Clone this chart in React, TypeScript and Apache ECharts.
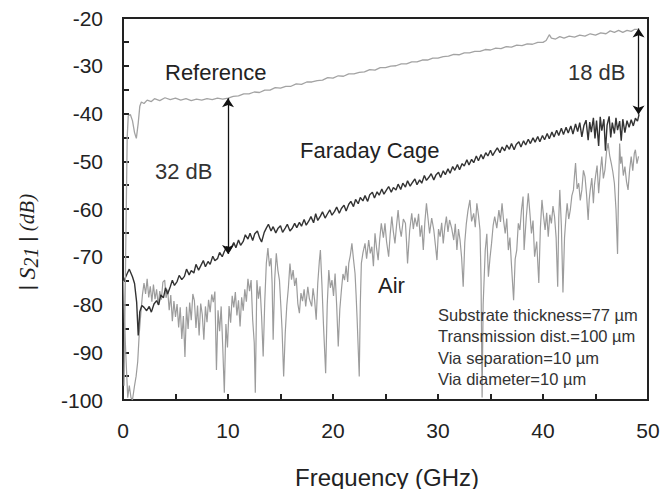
import React, { useEffect, useRef } from 'react';
import * as echarts from 'echarts';

const FONT = '"Liberation Sans", Arial, sans-serif';
const SERIF = '"Liberation Serif", "DejaVu Serif", serif';

const xTickLabels = [0, 10, 20, 30, 40, 50];
const yTickLabels = [-100, -90, -80, -70, -60, -50, -40, -30, -20];

// Reference (light gray)
const referenceData: [number, number][] = [
  [0.1, -97], [0.25, -70], [0.4, -45], [0.5, -40.5], [0.7, -40.2], [0.9, -41.5], [1.1, -44], [1.27, -45.2],
  [1.45, -42], [1.6, -38.5], [1.75, -37.6], [2.0, -37.9], [2.3, -37.2], [2.7, -37.5], [3.0, -36.9], [3.5, -37.3],
  [4.0, -36.7], [4.5, -37.1], [5.0, -36.8], [5.5, -37.2], [6.0, -36.9], [6.5, -37.3], [7.0, -37.0], [7.5, -37.2],
  [8.0, -36.9], [8.5, -37.1], [9.0, -36.8], [9.5, -37.0], [10.0, -36.8], [10.5, -36.4], [11.0, -36.3], [11.5, -35.9],
  [12.0, -35.9], [12.5, -35.5], [13.0, -35.6], [13.5, -35.1], [14.0, -35.1], [14.5, -34.6], [15.0, -34.7],
  [15.5, -34.3], [16.0, -34.3], [16.5, -33.8], [17.0, -33.9], [17.5, -33.4], [18.0, -33.4], [18.5, -33.1],
  [19.0, -33.0], [19.5, -32.5], [20.0, -32.6], [20.5, -32.1], [21.0, -32.2], [21.5, -31.7], [22.0, -31.7],
  [22.5, -31.4], [23.0, -31.3], [23.5, -30.8], [24.0, -30.9], [24.5, -30.4], [25.0, -30.4], [25.5, -30.1],
  [26.0, -30.0], [26.5, -29.6], [27.0, -29.6], [27.5, -29.2], [28.0, -29.2], [28.5, -28.8], [29.0, -28.8],
  [29.5, -28.4], [30.0, -28.4], [30.5, -28.1], [31.0, -28.0], [31.5, -27.6], [32.0, -27.7], [32.5, -27.3],
  [33.0, -27.3], [33.5, -27.0], [34.0, -27.0], [34.5, -26.6], [35.0, -26.7], [35.5, -26.3], [36.0, -26.4],
  [36.5, -26.0], [37.0, -26.1], [37.5, -25.7], [38.0, -25.8], [38.5, -25.4], [39.0, -25.5], [39.5, -25.1],
  [40.0, -25.1], [40.3, -24.7], [40.6, -23.5], [40.8, -24.2], [41.2, -24.4], [41.6, -23.9], [42.0, -24.2],
  [42.5, -23.8], [43.0, -24.0], [43.5, -23.6], [44.0, -23.8], [44.5, -23.3], [45.0, -23.6], [45.5, -23.1],
  [46.0, -23.3], [46.4, -22.7], [46.8, -23.0], [47.2, -22.6], [47.6, -23.0], [48.0, -22.6], [48.4, -22.8],
  [48.7, -22.4], [49.0, -22.4]
];

// Faraday Cage (dark)
const faradayData: [number, number][] = [
  [0.1, -75.0], [0.4, -73.5], [0.6, -72.6], [0.9, -74.2], [1.1, -75.6], [1.3, -79.5], [1.45, -86.5], [1.6, -81.5],
  [1.8, -80.2], [2.0, -80.6], [2.25, -81.3], [2.5, -80.4], [2.7, -81.6], [2.95, -79.9], [3.2, -79.2], [3.4, -80.1],
  [3.6, -78.0], [3.85, -78.6], [4.05, -76.5], [4.25, -77.8], [4.5, -76.3], [4.7, -74.9], [4.9, -76.0], [5.15, -75.2],
  [5.35, -73.9], [5.6, -74.8], [5.85, -74.1], [6.05, -72.6], [6.3, -73.8], [6.5, -72.9], [6.75, -73.4], [6.95, -71.6],
  [7.2, -72.8], [7.4, -71.9], [7.65, -70.8], [7.85, -72.1], [8.1, -71.0], [8.3, -71.6], [8.55, -69.9], [8.75, -70.8],
  [9.0, -70.4], [9.2, -69.1], [9.45, -70.0], [9.65, -68.9], [9.9, -67.8], [10.1, -69.0], [10.3, -68.2], [10.55, -67.0],
  [10.75, -68.1], [11.0, -66.5], [11.2, -67.6], [11.45, -66.8], [11.65, -65.4], [11.9, -66.3], [12.1, -65.1],
  [12.35, -66.6], [12.55, -65.2], [12.8, -64.6], [13.0, -66.0], [13.2, -66.9], [13.45, -64.9], [13.65, -64.0],
  [13.85, -63.2], [14.1, -64.6], [14.3, -63.7], [14.55, -65.0], [14.75, -64.1], [15.0, -63.5], [15.2, -64.9],
  [15.45, -64.0], [15.65, -63.2], [15.9, -64.6], [16.1, -64.1], [16.35, -63.0], [16.55, -63.9], [16.8, -62.8],
  [17.0, -63.6], [17.25, -62.2], [17.45, -63.4], [17.7, -62.5], [17.9, -61.6], [18.15, -62.9], [18.35, -61.0],
  [18.55, -62.4], [18.8, -61.5], [19.0, -60.6], [19.25, -61.9], [19.45, -61.1], [19.7, -60.2], [19.9, -61.3],
  [20.15, -60.5], [20.35, -59.6], [20.6, -60.9], [20.8, -59.9], [21.05, -59.2], [21.25, -60.4], [21.5, -59.0],
  [21.7, -58.4], [21.95, -59.5], [22.15, -58.0], [22.4, -58.9], [22.6, -57.6], [22.85, -58.3], [23.05, -57.2],
  [23.3, -58.4], [23.5, -57.0], [23.75, -56.5], [23.95, -57.7], [24.2, -56.4], [24.4, -57.1], [24.65, -55.8],
  [24.85, -56.9], [25.1, -56.0], [25.3, -55.3], [25.55, -56.5], [25.75, -55.5], [26.0, -56.0], [26.2, -54.8],
  [26.45, -55.9], [26.65, -54.6], [26.9, -55.4], [27.1, -54.1], [27.35, -55.2], [27.55, -54.5], [27.8, -53.7],
  [28.0, -54.9], [28.25, -53.9], [28.45, -54.6], [28.7, -53.0], [28.9, -54.0], [29.15, -53.3], [29.35, -52.6],
  [29.6, -53.9], [29.8, -52.9], [30.05, -52.3], [30.25, -53.4], [30.5, -52.0], [30.7, -52.8], [30.95, -51.6],
  [31.15, -52.5], [31.4, -51.1], [31.6, -51.9], [31.85, -50.7], [32.05, -51.8], [32.3, -50.5], [32.5, -51.0],
  [32.75, -49.7], [32.95, -50.8], [33.2, -49.6], [33.4, -50.3], [33.65, -48.9], [33.85, -49.9], [34.1, -48.6],
  [34.3, -49.5], [34.55, -48.2], [34.75, -48.9], [35.0, -47.7], [35.2, -48.8], [35.45, -47.9], [35.65, -47.2],
  [35.9, -48.2], [36.1, -47.0], [36.35, -47.8], [36.55, -46.6], [36.8, -47.5], [37.0, -46.3], [37.25, -47.6],
  [37.45, -46.5], [37.7, -45.9], [37.9, -47.0], [38.15, -45.7], [38.35, -46.6], [38.6, -45.4], [38.8, -46.3],
  [39.05, -45.1], [39.25, -46.0], [39.5, -44.8], [39.7, -45.9], [39.95, -44.6], [40.15, -45.5], [40.4, -44.2],
  [40.6, -45.3], [40.85, -43.9], [41.05, -44.9], [41.3, -43.5], [41.5, -44.6], [41.75, -43.1], [41.95, -44.4],
  [42.2, -42.9], [42.4, -44.1], [42.65, -42.6], [42.85, -44.3], [43.1, -42.2], [43.3, -43.8], [43.5, -41.9],
  [43.7, -44.9], [43.9, -42.5], [44.1, -41.4], [44.3, -45.6], [44.45, -41.8], [44.6, -43.9], [44.8, -40.9],
  [44.95, -45.2], [45.1, -41.5], [45.3, -46.8], [45.45, -40.7], [45.6, -43.6], [45.8, -41.2], [45.95, -47.8],
  [46.1, -42.5], [46.3, -40.6], [46.45, -45.0], [46.6, -41.9], [46.8, -44.2], [46.95, -40.9], [47.1, -43.5],
  [47.3, -41.6], [47.45, -45.7], [47.6, -41.2], [47.8, -44.0], [48.0, -41.5], [48.2, -42.9], [48.4, -41.3],
  [48.6, -42.6], [48.8, -41.0], [49.0, -41.6], [49.15, -40.2]
];

// Air (gray, noisy)
const airData: [number, number][] = [
  [0.05, -75], [0.15, -84], [0.3, -92], [0.45, -99.5], [0.6, -97], [0.76, -99.5], [0.9, -100], [1.1, -97],
  [1.25, -95], [1.4, -92], [1.55, -86], [1.7, -81.8], [1.85, -78],
  [2.0, -75.5], [2.15, -77.8], [2.3, -74.6], [2.45, -78.5], [2.6, -76.2], [2.75, -79.4], [2.9, -75.8], [3.05, -78.9],
  [3.2, -76.8], [3.35, -80.1], [3.5, -77.2], [3.65, -79.0], [3.8, -75.3], [3.97, -74.9], [4.1, -78.6], [4.25, -76.9],
  [4.4, -81.2], [4.55, -78.0], [4.7, -83.5], [4.85, -79.3], [5.0, -82.6], [5.15, -79.9], [5.3, -84.8], [5.45, -80.6],
  [5.6, -87.2], [5.75, -82.4], [5.9, -91.0], [6.05, -80.5], [6.2, -85.1], [6.35, -79.6], [6.5, -83.3], [6.65, -77.8],
  [6.8, -79.2], [6.95, -84.9], [7.1, -80.2], [7.25, -86.5], [7.4, -79.8], [7.55, -82.1], [7.7, -87.4], [7.85, -80.4],
  [8.0, -83.7], [8.15, -79.0], [8.3, -81.6], [8.45, -77.9], [8.6, -79.5], [8.75, -77.3], [8.9, -93.7], [9.05, -81.2],
  [9.2, -85.6], [9.35, -80.4], [9.5, -88.9], [9.65, -98.5], [9.8, -84.1], [9.95, -89.0], [10.1, -80.3], [10.25, -83.8],
  [10.4, -78.2], [10.55, -80.6], [10.7, -77.4], [10.85, -82.3], [11.0, -79.1], [11.15, -84.6], [11.3, -78.5],
  [11.45, -81.3], [11.6, -76.8], [11.75, -79.4], [11.9, -74.6], [12.05, -77.2], [12.2, -74.9], [12.35, -83.2],
  [12.5, -88.0], [12.6, -98.5], [12.75, -74.9], [12.9, -78.8], [13.05, -76.2], [13.2, -82.5], [13.35, -90.9],
  [13.5, -79.4], [13.65, -71.4], [13.8, -68.2], [13.95, -72.0], [14.1, -70.3], [14.2, -75.5], [14.3, -87.4],
  [14.45, -74.6], [14.6, -69.3], [14.75, -72.8], [14.9, -74.9], [15.05, -81.0], [15.15, -85.3], [15.3, -95.1],
  [15.45, -86.0], [15.6, -80.2], [15.75, -76.5], [15.9, -71.4], [16.05, -74.8], [16.2, -72.8], [16.35, -76.1],
  [16.5, -74.4], [16.65, -79.8], [16.8, -81.8], [16.95, -77.6], [17.1, -79.3], [17.25, -76.8], [17.4, -80.4],
  [17.6, -76.3], [17.75, -78.8], [17.97, -80.4], [18.1, -76.6], [18.25, -79.1], [18.4, -83.2], [18.55, -75.5],
  [18.7, -70.9], [18.8, -68.6], [18.95, -76.0], [19.1, -84.6], [19.3, -94.4], [19.45, -80.1], [19.6, -72.8],
  [19.75, -76.5], [19.9, -74.9], [20.05, -78.2], [20.2, -73.5], [20.35, -80.2], [20.5, -88.8], [20.65, -81.0],
  [20.8, -77.0], [20.95, -73.6], [21.1, -74.9], [21.25, -71.9], [21.4, -75.3], [21.5, -71.4], [21.65, -69.7],
  [21.8, -67.2], [21.95, -70.5], [22.1, -73.5], [22.2, -78.0], [22.3, -83.2], [22.5, -95.1], [22.6, -80.0],
  [22.7, -71.4], [22.85, -69.2], [23.05, -67.2], [23.2, -70.4], [23.4, -66.5], [23.55, -69.3], [23.7, -67.9],
  [23.85, -72.0], [24.0, -65.1], [24.15, -68.2], [24.3, -70.7], [24.45, -66.3], [24.6, -63.0], [24.8, -66.0],
  [24.95, -63.0], [25.1, -66.8], [25.3, -70.0], [25.45, -65.2], [25.6, -61.6], [25.75, -64.8], [25.9, -67.2],
  [26.05, -63.5], [26.2, -60.2], [26.35, -63.9], [26.5, -65.8], [26.7, -62.1], [26.9, -63.0], [27.0, -66.8],
  [27.1, -71.4], [27.3, -64.5], [27.5, -60.9], [27.65, -64.2], [27.8, -61.8], [28.0, -63.7], [28.15, -61.0],
  [28.3, -65.8], [28.45, -63.4], [28.6, -68.6], [28.75, -62.7], [28.9, -58.8], [29.05, -62.0], [29.2, -65.1],
  [29.4, -61.9], [29.6, -64.4], [29.75, -67.5], [29.9, -70.7], [30.05, -64.2], [30.2, -65.8], [30.35, -62.9],
  [30.5, -67.2], [30.65, -63.8], [30.8, -61.6], [30.95, -64.8], [31.1, -62.3], [31.3, -64.0], [31.5, -66.5],
  [31.65, -63.1], [31.8, -68.6], [31.95, -64.2], [32.1, -66.5], [32.25, -70.2], [32.4, -76.3], [32.55, -67.0],
  [32.7, -63.0], [32.85, -60.4], [33.04, -58.1], [33.2, -62.6], [33.4, -60.9], [33.55, -63.8], [33.7, -58.8],
  [33.85, -61.2], [34.0, -64.4], [34.1, -75.0], [34.2, -99.5], [34.3, -80.0], [34.5, -68.6], [34.65, -65.2],
  [34.8, -74.2], [34.95, -70.3], [35.1, -67.2], [35.25, -63.5], [35.4, -61.6], [35.6, -64.0], [35.8, -60.2],
  [35.95, -62.7], [36.1, -58.8], [36.25, -62.5], [36.4, -65.1], [36.55, -62.0], [36.7, -68.6], [36.85, -66.0],
  [37.0, -71.8], [37.2, -79.1], [37.35, -70.5], [37.5, -68.6], [37.65, -63.0], [37.8, -64.4], [37.95, -60.2],
  [38.1, -57.4], [38.2, -68.6], [38.4, -62.0], [38.6, -56.7], [38.75, -60.8], [38.9, -65.1], [39.05, -62.4],
  [39.2, -70.0], [39.4, -66.8], [39.6, -75.5], [39.75, -64.0], [39.9, -58.1], [40.05, -61.5], [40.2, -64.4],
  [40.35, -60.8], [40.5, -65.8], [40.65, -61.2], [40.8, -63.0], [40.95, -59.4], [41.1, -61.6], [41.25, -66.0],
  [41.4, -76.3], [41.5, -62.0], [41.6, -56.0], [41.75, -63.5], [41.9, -77.5], [42.05, -66.0], [42.2, -61.3],
  [42.3, -58.8], [42.45, -62.1], [42.6, -60.2], [42.75, -57.2], [42.9, -56.0], [43.0, -53.0], [43.1, -50.4],
  [43.25, -55.8], [43.4, -54.6], [43.55, -58.2], [43.7, -56.0], [43.85, -51.9], [44.0, -53.2], [44.15, -57.0],
  [44.3, -62.3], [44.4, -58.1], [44.5, -56.0], [44.65, -53.5], [44.8, -58.8], [44.9, -55.0], [45.0, -53.2],
  [45.15, -50.9], [45.3, -56.7], [45.45, -52.3], [45.6, -49.0], [45.75, -53.6], [45.9, -51.8], [46.05, -48.0],
  [46.2, -46.2], [46.35, -48.8], [46.5, -50.4], [46.65, -52.2], [46.8, -54.6], [46.95, -60.0], [47.1, -69.4],
  [47.2, -55.0], [47.3, -46.3], [47.4, -50.5], [47.5, -49.0], [47.65, -53.0], [47.8, -51.1], [47.95, -54.2],
  [48.1, -56.0], [48.25, -51.8], [48.4, -49.0], [48.55, -52.0], [48.7, -48.3], [48.8, -47.6], [48.95, -50.5],
  [49.1, -49.0]
];

// Difference arrows: [frequency, top dB, bottom dB]
const arrow32: [number, number, number] = [10.0, -36.8, -69.4];
const arrow18: [number, number, number] = [49.1, -22.2, -40.2];

const paramLines = [
  'Substrate thickness=77 µm',
  'Transmission dist.=100 µm',
  'Via separation=10 µm',
  'Via diameter=10 µm',
];

export default function App() {
  const ref = useRef<HTMLDivElement>(null);
  useEffect(() => {
    const chart = echarts.init(ref.current!, null, { renderer: 'svg' });
    const axisColor = '#222';
    const option: any = {
      animation: false,
      backgroundColor: '#ffffff',
      grid: {
        left: 123, right: 24, top: 18, bottom: 89,
        show: true, borderColor: axisColor, borderWidth: 2, backgroundColor: 'transparent',
      },
      xAxis: {
        type: 'value', min: 0, max: 50, interval: 5,
        axisLine: { show: true, lineStyle: { color: axisColor, width: 2 } },
        axisTick: { show: true, inside: true, length: 6, lineStyle: { color: axisColor, width: 2 } },
        splitLine: { show: false },
        axisLabel: {
          margin: 20, fontSize: 21, color: '#222', fontFamily: FONT,
          formatter: (v: number) => (xTickLabels.includes(v) ? String(v) : ''),
        },
      },
      yAxis: {
        type: 'value', min: -100, max: -20, interval: 5,
        axisLine: { show: true, lineStyle: { color: axisColor, width: 2 } },
        axisTick: { show: true, inside: true, length: 6, lineStyle: { color: axisColor, width: 2 } },
        splitLine: { show: false },
        axisLabel: {
          margin: 20, fontSize: 21, color: '#222', fontFamily: FONT,
          formatter: (v: number) => (yTickLabels.includes(v) ? String(v) : ''),
        },
      },
      series: [
        {
          name: 'Air', type: 'line', data: airData, showSymbol: false, symbol: 'none', z: 2,
          lineStyle: { color: '#9c9c9c', width: 1.2 },
        },
        {
          name: 'Faraday Cage', type: 'line', data: faradayData, showSymbol: false, symbol: 'none', z: 3,
          lineStyle: { color: '#333333', width: 1.4 },
        },
        {
          name: 'Reference', type: 'line', data: referenceData, showSymbol: false, symbol: 'none', z: 4,
          lineStyle: { color: '#a3a3a3', width: 1.3 },
          markLine: {
            silent: true,
            symbol: ['arrow', 'arrow'],
            symbolSize: 9,
            label: { show: false },
            lineStyle: { color: '#111', width: 1.3, type: 'solid' },
            data: [
              [{ coord: [arrow32[0], arrow32[1]] }, { coord: [arrow32[0], arrow32[2]] }],
              [{ coord: [arrow18[0], arrow18[1]] }, { coord: [arrow18[0], arrow18[2]] }],
            ],
          },
        },
      ],
      graphic: [
        { type: 'text', x: 165, y: 72, style: { text: 'Reference', font: `22px ${FONT}`, fill: '#222', textVerticalAlign: 'middle' } },
        { type: 'text', x: 155, y: 171, style: { text: '32 dB', font: `22px ${FONT}`, fill: '#333', textVerticalAlign: 'middle' } },
        { type: 'text', x: 300, y: 150, style: { text: 'Faraday Cage', font: `22px ${FONT}`, fill: '#222', textVerticalAlign: 'middle' } },
        { type: 'text', x: 568, y: 72, style: { text: '18 dB', font: `22px ${FONT}`, fill: '#333', textVerticalAlign: 'middle' } },
        { type: 'text', x: 378, y: 285, style: { text: 'Air', font: `22px ${FONT}`, fill: '#222', textVerticalAlign: 'middle' } },
        ...paramLines.map((t, i) => ({
          type: 'text', x: 438, y: 315 + i * 21.3, z: 10,
          style: { text: t, font: `16.5px ${FONT}`, fill: '#333', textVerticalAlign: 'middle' },
        })),
        {
          type: 'text', x: 387, y: 477,
          style: { text: 'Frequency (GHz)', font: `24px ${FONT}`, fill: '#222', textAlign: 'center', textVerticalAlign: 'middle' },
        },
        {
          type: 'text', x: 27, y: 242, rotation: Math.PI / 2,
          style: {
            text: '{b|| }{s|S}{n|21}{b| | }{i|(dB)}',
            textAlign: 'center', textVerticalAlign: 'middle', fill: '#222',
            rich: {
              b: { fontFamily: FONT, fontSize: 20, fill: '#222' },
              s: { fontFamily: SERIF, fontSize: 24, fontStyle: 'italic', fill: '#222' },
              n: { fontFamily: SERIF, fontSize: 20, fontStyle: 'italic', fill: '#222', padding: [8, 0, 0, 0] },
              i: { fontFamily: SERIF, fontSize: 21, fontStyle: 'italic', fill: '#222' },
            },
          },
        },
      ],
    };
    chart.setOption(option);
    return () => chart.dispose();
  }, []);
  return <div ref={ref} style={{ position: 'absolute', left: 0, top: 0, width: 672, height: 489 }} />;
}
